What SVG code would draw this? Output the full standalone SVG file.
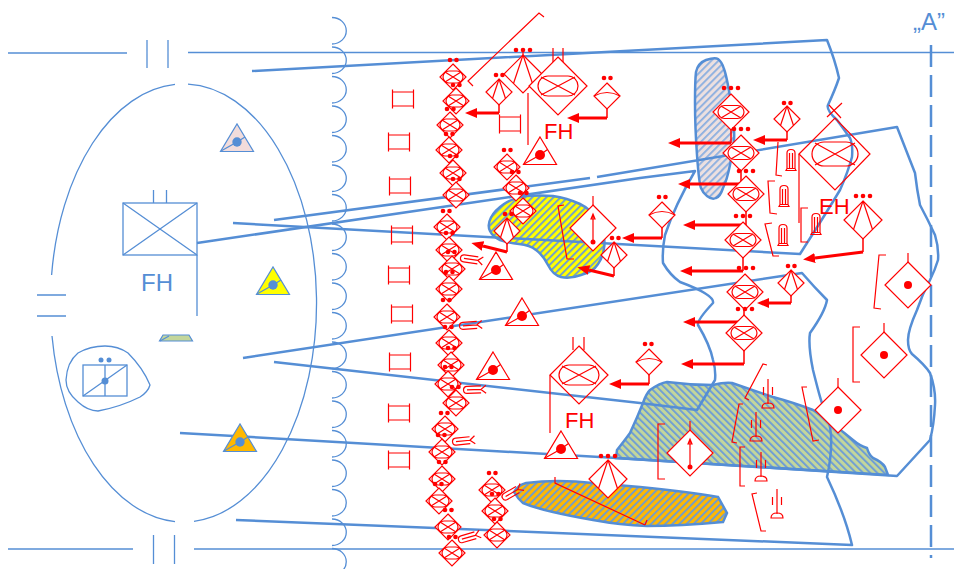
<svg xmlns="http://www.w3.org/2000/svg" width="954" height="569" viewBox="0 0 954 569">
<style>
.b1{fill:none;stroke:#558ed5;stroke-width:1.3}
.b2{fill:none;stroke:#558ed5;stroke-width:2.5;stroke-linejoin:round}
.r{fill:none;stroke:#f00;stroke-width:1.2}
.rw{fill:#fff;stroke:#f00;stroke-width:1.2}
.rf{fill:#f00}
.bf{fill:#558ed5}
.arr{fill:none;stroke:#f00;stroke-width:3;marker-end:url(#ah)}
.st{fill:none;stroke:#f00;stroke-width:1.5}
.bt{fill:#558ed5;font-family:"Liberation Sans",Arial,sans-serif}
.rt{fill:#f00;font-family:"Liberation Sans",Arial,sans-serif;font-size:22px}
</style>
<defs>
<marker id="ah" markerUnits="userSpaceOnUse" markerWidth="13" markerHeight="11" refX="0" refY="5" orient="auto"><path d="M0,0L12,5L0,10Z" fill="#f00"/></marker>
<pattern id="hy" patternUnits="userSpaceOnUse" width="5" height="5" patternTransform="rotate(45)"><rect width="5" height="5" fill="#ff0"/><rect width="1.800" height="5" fill="#6a9ad8"/></pattern>
<pattern id="ho" patternUnits="userSpaceOnUse" width="5" height="5" patternTransform="rotate(45)"><rect width="5" height="5" fill="#ffb800"/><rect width="1.800" height="5" fill="#6a9ad8"/></pattern>
<pattern id="hp" patternUnits="userSpaceOnUse" width="5" height="5" patternTransform="rotate(45)"><rect width="5" height="5" fill="#ece0e0"/><rect width="1.800" height="5" fill="#8aaee0"/></pattern>
<pattern id="hg" patternUnits="userSpaceOnUse" width="5" height="5" patternTransform="rotate(-45)"><rect width="5" height="5" fill="#c3d69b"/><rect width="1.800" height="5" fill="#6a9ad8"/></pattern>
<g id="dm"><path class="rw" d="M0,-13L13,0L0,13L-13,0Z"/><rect class="r" x="-10" y="-6" width="20" height="12" rx="6"/><path class="r" d="M-8,-5L8,5M-8,5L8,-5"/></g>
<g id="dl"><path class="rw" d="M0,-18L18,0L0,18L-18,0Z"/><rect class="r" x="-13" y="-6.5" width="26" height="13" rx="6.5"/><path class="r" d="M-10,-6L10,6M-10,6L10,-6"/></g>
<g id="fan"><path class="rw" d="M0,-13L13,0L0,13L-13,0Z"/><path class="r" d="M0,-13L-6.5,6.5M0,-13L6.5,6.5"/></g>
<g id="fanl"><path class="rw" d="M0,-19L19,0L0,19L-19,0Z"/><path class="r" d="M0,-19L-9.500,9.500M0,-19L9.500,9.500"/></g>
<g id="arc"><path class="rw" d="M0,-13L13,0L0,13L-13,0Z"/><path class="r" d="M-13,0Q0,-7 13,0"/></g>
<g id="dd"><path class="rw" d="M0,-23L23,0L0,23L-23,0Z"/><circle class="rf" r="4"/><path class="r" d="M0,-23V-32"/></g>
<g id="da"><path class="rw" d="M0,-23L23,0L0,23L-23,0Z"/><circle class="rf" cy="14" r="2.500"/><path class="r" d="M0,14V-13M-2,-9L0,-14L2,-9Z"/><path class="r" d="M0,-23V-32"/></g>
<g id="tri"><path class="rw" d="M0,0L16.500,27.500H-16.500Z"/><circle class="rf" cy="18" r="5"/><path class="r" d="M-16,27L0,18L7.500,12.500"/></g>
<g id="btri"><path d="M-16.500,27.500H16.500L0,0Z" stroke="#558ed5" stroke-width="1.200"/><circle class="bf" cy="18" r="4.700"/><path class="b1" d="M-16,27L0,18L8,13"/></g>
<path id="ii" class="r" d="M-10.500,-9.500V9.500M10.500,-9.500V9.500M-10.500,-7H10.500M-10.500,7H10.500"/>
<g id="ant"><path class="r" d="M0,-27V-2M-4.500,-19V-11M4.500,-19V-11"/><path class="r" d="M-6,2Q-6,-3 0,-3Q6,-3 6,2Z"/></g>
<g id="tow"><path class="r" d="M-4,8.500V-7Q-4,-10.500 0,-10.500Q4,-10.500 4,-7V8.500M-1.500,8.500V-7M1.500,8.500V-7M-5,10.500H5L4,8.500H-4Z"/></g>
<g id="roc"><path class="r" d="M17,-3.500H3A3.500,3.500 0 0 0 3,3.500H17M3,0H17M17,0L22,-4M17,0L22,4"/></g>
<g id="d2"><circle class="rf" r="2.300"/><circle class="rf" cx="6.500" r="2.300"/></g>
<g id="d3"><circle class="rf" r="2.300"/><circle class="rf" cx="7" r="2.300"/><circle class="rf" cx="14" r="2.300"/></g>
</defs>

<g id="terrain">
<path id="blob-lilac" fill="url(#hp)" stroke="#558ed5" stroke-width="2.500" d="M706,60Q715,57 718,59Q722,62 724,69Q727,77 731,103Q735,130 734,140Q733,150 730,165Q727,180 723,188Q720,197 716,198Q712,200 707,196Q703,193 701,188Q699,183 697,155Q695,127 695,103Q695,80 696,72Q698,63 706,60Z"/>
<path id="blob-yellow" fill="url(#hy)" stroke="#558ed5" stroke-width="2.500" d="M491,217.500Q495,210 504,204Q513,198 526,196Q540,195 553,196Q567,198 580,204Q593,210 600,225Q606,240 604,248Q603,257 598,264Q593,272 581,275Q570,279 561,277Q553,275 548,265Q543,255 536,250Q530,245 519,244Q508,243 500,240Q493,237 490,231Q487,225 491,217.500Z"/>
<path id="blob-orange" fill="url(#ho)" stroke="#558ed5" stroke-width="2.500" d="M514,492Q518,485 526,483Q557,479 593,483L640,487Q690,492 718,497L727,513L723,522Q680,526 647,526Q620,525 593,520Q570,516 553,512Q535,508 523,503Q518,499 514,492Z"/>
<path id="blob-green" fill="url(#hg)" stroke="#558ed5" stroke-width="2.500" d="M616,458L617,450Q625,440 630,433Q637,418 643,403Q646,394 650,390Q660,383 667,382Q690,385 713,385Q725,382 732,383Q752,390 773,397Q795,403 813,410Q835,425 853,440Q860,446 867,448Q869,455 873,458Q882,462 885,467L888,475L616,458Z"/>
<path id="scallops" class="b1" stroke-width="1.500" d="M332,17.500A14,13 0 0 1 332,44M332,47A14,13 0 0 1 332,73.500M332,76.500A14,13 0 0 1 332,103M332,106A14,13 0 0 1 332,132.500M332,135.500A14,13 0 0 1 332,162M332,165A14,13 0 0 1 332,191.500M332,194.500A14,13 0 0 1 332,221M332,224A14,13 0 0 1 332,250.500M332,253.500A14,13 0 0 1 332,280M332,283A14,13 0 0 1 332,309.500M332,312.500A14,13 0 0 1 332,339M332,342A14,13 0 0 1 332,368.500M332,371.500A14,13 0 0 1 332,398M332,401A14,13 0 0 1 332,427.500M332,430.500A14,13 0 0 1 332,457M332,460A14,13 0 0 1 332,486.500M332,489.500A14,13 0 0 1 332,516M332,519A14,13 0 0 1 332,545.500M332,548.500A14,13 0 0 1 332,575"/>
<path id="ellipse" class="b1" d="M51.600,275A133,219 0 0 1 175,84.450M188,84.100A133,219 0 0 1 194,521.300M175,521.550A133,219 0 0 1 52,336"/>
</g>

<g id="connectors">
<path class="b1" d="M8,53H127M188,52.500H954M147,40V68M168,40V68M8,549H133M194,549H954M153.500,535V564M174.500,535V564M37,295H66M37,316H66"/>
<path class="b2" d="M233,223L800,254L807,243Q825,215 840,190Q848,172 852,157Q853,145 850,138Q843,128 837,120Q826,110 828,105Q835,90 839,78Q835,60 827,40L252,71"/>
<path class="b2" d="M274,220L590,178M597,177L897,127Q906,150 915,173Q917,190 920,205Q928,220 935,235Q939,248 938,260Q935,270 930,280Q922,295 917,310Q908,330 908,340Q908,350 912,354Q925,365 930,373Q936,390 935,405Q934,425 930,440L897,476L617,458L180,433"/>
<path class="b2" d="M197,243L640,178L695,171Q675,205 665,235Q662,250 663,263Q670,275 680,282Q715,295 713,303Q697,320 698,325Q710,345 713,360Q716,370 715,380L697,410L640,403L274,362"/>
<path class="b2" d="M243,358L802,273Q815,288 827,300Q825,312 810,333Q808,345 813,370Q820,398 822,403Q830,420 831,435Q832,455 827,477Q845,515 852,545L236,520"/>
<path class="b2" stroke-dasharray="22 8" stroke-width="3" d="M931,45V558"/>
<path class="st" d="M499,105V113M607,109V118M507,244V252M731,125V143M741,166V184M746,207V225M743,253V271M744,305V322M744,346V364M787,132V140M791,296V303M863,239V252M662,228V238M614,268V276M649,375V384"/>
<path class="arr" d="M499,113H477"/>
<path class="arr" d="M607,118H579"/>
<path class="arr" d="M507,252L483,246"/>
<path class="arr" d="M731,143H680"/>
<path class="arr" d="M741,184H690"/>
<path class="arr" d="M746,225H695"/>
<path class="arr" d="M743,271H692"/>
<path class="arr" d="M744,322H695"/>
<path class="arr" d="M744,364H693"/>
<path class="arr" d="M787,140H765"/>
<path class="arr" d="M791,303H769"/>
<path class="arr" d="M863,252L815,258"/>
<path class="arr" d="M662,238H634"/>
<path class="arr" d="M614,276L589,270"/>
<path class="arr" d="M649,384H621"/>
</g>

<g id="blue-units">
<g id="b-tri-pink" transform="translate(237,124)"><use href="#btri" fill="#f2dcdb"/></g>
<g id="b-tri-yellow" transform="translate(273,267)"><use href="#btri" fill="#ff0"/></g>
<g id="b-tri-orange" transform="translate(240,424)"><use href="#btri" fill="#ffb800"/></g>
<g id="b-tri-green"><path d="M159.500,341H192.500L189,335H163Z" fill="#c3d69b" stroke="#558ed5" stroke-width="1.200"/><path class="b1" d="M160,341L169,336"/></g>
<g id="b-hq"><rect class="b1" x="123" y="203" width="74" height="52"/><path class="b1" d="M123,203L197,255M123,255L197,203M153.500,190V203M166.500,190V203M197,255V316"/><text class="bt" x="141" y="291" font-size="24">FH</text></g>
<g id="b-unit"><path class="b1" d="M66,380Q67,362 78,353Q90,346 105,346Q118,346 128,353Q143,368 150,385Q148,392 140,397Q120,407 98,411Q88,411 78,402Q66,392 66,380Z"/><rect class="b1" x="83" y="365" width="44" height="31"/><path class="b1" d="M105,365V396M83,396L127,365"/><circle class="bf" cx="105" cy="381" r="3.500"/><circle class="bf" cx="101" cy="360" r="2.500"/><circle class="bf" cx="109" cy="360" r="2.500"/></g>
<text id="label-a" class="bt" x="913" y="30" font-size="24">„A”</text>
</g>

<g id="column-1">
<g id="c1"><use href="#dm" x="453" y="77"/><use href="#d2" x="450" y="60"/></g>
<g id="c2"><use href="#dm" x="456" y="101"/><use href="#d2" x="453" y="85"/></g>
<g id="c3"><use href="#dm" x="450" y="125"/><use href="#d2" x="447" y="109"/></g>
<g id="c4"><use href="#dm" x="449" y="150"/><use href="#d2" x="446" y="134"/></g>
<g id="c5"><use href="#dm" x="453" y="173"/><use href="#d2" x="450" y="156"/></g>
<g id="c6"><use href="#dm" x="456" y="195"/><use href="#d2" x="453" y="179"/></g>
<g id="c7"><use href="#dm" x="447" y="227"/><use href="#d2" x="443" y="211"/></g>
<g id="c8"><use href="#dm" x="449" y="250"/><use href="#d2" x="446" y="233"/></g>
<g id="c9"><use href="#dm" x="452" y="269"/><use href="#d2" x="448" y="252"/></g>
<g id="c10"><use href="#dm" x="449" y="289"/><use href="#d2" x="446" y="272"/></g>
<g id="c11"><use href="#dm" x="447" y="317"/><use href="#d2" x="443" y="300"/></g>
<g id="c12"><use href="#dm" x="449" y="343"/><use href="#d2" x="445" y="327"/></g>
<g id="c13"><use href="#dm" x="451" y="365"/><use href="#d2" x="448" y="348"/></g>
<g id="c14"><use href="#dm" x="448" y="384"/><use href="#d2" x="445" y="367"/></g>
<g id="c15"><use href="#dm" x="456" y="403"/><use href="#d2" x="452" y="387"/></g>
<g id="c16"><use href="#dm" x="445" y="429"/><use href="#d2" x="441" y="413"/></g>
<g id="c17"><use href="#dm" x="442" y="452"/><use href="#d2" x="438" y="435"/></g>
<g id="c18"><use href="#dm" x="442" y="479"/><use href="#d2" x="439" y="462"/></g>
<g id="c19"><use href="#dm" x="439" y="501"/><use href="#d2" x="435" y="484"/></g>
<g id="c20"><use href="#dm" x="448" y="527"/><use href="#d2" x="445" y="510"/></g>
<g id="c21"><use href="#dm" x="452" y="553"/><use href="#d2" x="449" y="537"/></g>
<g id="c22"><use href="#dm" x="492" y="490"/><use href="#d2" x="489" y="473"/></g>
<g id="c23"><use href="#dm" x="495" y="511"/><use href="#d2" x="492" y="494"/></g>
<g id="c24"><use href="#dm" x="497" y="535"/><use href="#d2" x="494" y="519"/></g>
<g id="c25"><use href="#dm" x="507" y="167"/><use href="#d2" x="504" y="150"/></g>
<g id="c26"><use href="#dm" x="516" y="188"/><use href="#d2" x="512" y="172"/></g>
<g id="c27"><use href="#dm" x="523" y="211"/><use href="#d2" x="520" y="193"/></g>
</g>

<g id="rockets">
<use id="r1" href="#roc" transform="translate(461,258) rotate(8)"/>
<use id="r2" href="#roc" transform="translate(460,326) rotate(-4)"/>
<use id="r3" href="#roc" transform="translate(464,390) rotate(-2)"/>
<use id="r4" href="#roc" transform="translate(453,442) rotate(-6)"/>
<use id="r5" href="#roc" transform="translate(459,540) rotate(-16)"/>
<use id="r6" href="#roc" transform="translate(503,498) rotate(-30)"/>
</g>

<g id="bars">
<use id="i1" href="#ii" x="403" y="99"/><use id="i2" href="#ii" x="399" y="142"/><use id="i3" href="#ii" x="400" y="186"/><use id="i4" href="#ii" x="402" y="235"/><use id="i5" href="#ii" x="399" y="275"/><use id="i6" href="#ii" x="402" y="314"/><use id="i7" href="#ii" x="400" y="362"/><use id="i8" href="#ii" x="399" y="413"/><use id="i9" href="#ii" x="399" y="460"/><use id="i10" href="#ii" x="510" y="124"/>
</g>

<g id="red-hq">
<g id="hq-top"><path class="r" d="M473,86L468,81L539,13L544,17"/><g id="f1"><use href="#fanl" x="523" y="74"/><use href="#d3" x="516" y="50"/><path class="r" d="M523,50V55M528,93V145"/></g><g id="f2"><use href="#fan" x="499" y="92"/><use href="#d2" x="496" y="75"/></g><g id="f3"><path class="rw" d="M558,57L587,86L558,115L529,86Z"/><rect class="r" x="538" y="76" width="40" height="20" rx="10"/><path class="r" d="M541,77L575,95M541,95L575,77M553,48V62M563,48V62"/></g><g id="f4"><use href="#arc" x="607" y="96"/><use href="#d2" x="604" y="78"/></g><text class="rt" x="544" y="139">FH</text></g>
<g id="hq-mid"><path class="r" d="M799,154V223"/><path class="r" d="M799,154L835,118L870,154L835,190Z"/><rect class="r" x="812" y="142" width="46" height="24" rx="12"/><path class="r" d="M815,143L855,165M815,165L855,143M827,117L842,103M829,105L841,118"/><text class="rt" x="819" y="214">EH</text><g id="f5"><use href="#fanl" x="863" y="220"/><use href="#d3" x="856" y="196"/></g></g>
<g id="hq-low"><path class="r" d="M579,346L608,375L579,404L550,375Z"/><rect class="r" x="559" y="365" width="40" height="20" rx="10"/><path class="r" d="M562,366L596,384M562,384L596,366M573,337V350M584,337V350M550,375V433"/><text class="rt" x="565" y="428">FH</text><g id="f6"><use href="#arc" x="649" y="362"/><use href="#d2" x="645" y="344"/></g></g>
</g>

<g id="triangles">
<use id="t1" href="#tri" x="540" y="137"/><use id="t2" href="#tri" x="496" y="252"/><use id="t3" href="#tri" x="522" y="298"/><use id="t4" href="#tri" x="493" y="352"/><use id="t5" href="#tri" x="561" y="431"/>
</g>

<g id="center-nodes">
<g id="n1"><use href="#dl" x="731" y="112"/><use href="#d3" x="724" y="88"/></g>
<g id="n2"><use href="#dl" x="741" y="153"/><use href="#d3" x="734" y="129"/></g>
<g id="n3"><use href="#dl" x="746" y="194"/><use href="#d3" x="739" y="171"/></g>
<g id="n4"><use href="#dl" x="743" y="240"/><use href="#d3" x="736" y="216"/></g>
<g id="n5"><use href="#dl" x="745" y="292"/><use href="#d3" x="739" y="268"/></g>
<g id="n6"><use href="#dl" x="744" y="333"/><use href="#d3" x="738" y="309"/></g>
<g id="n7"><use href="#fan" x="787" y="119"/><use href="#d2" x="784" y="103"/></g>
<g id="n8"><use href="#fan" x="791" y="283"/><use href="#d2" x="788" y="266"/></g>
<g id="n9"><use href="#arc" x="662" y="215"/><use href="#d2" x="659" y="197"/></g>
<g id="n10"><path class="r" d="M564,205L558,206L567,259L574,259"/><use href="#da" x="593" y="228"/></g>
<g id="n11"><use href="#fan" x="614" y="255"/><use href="#d2" x="612" y="238"/></g>
<g id="n12"><use href="#fan" x="507" y="231"/><use href="#d2" x="505" y="214"/></g>
<g id="n13"><path class="r" d="M555,477V483L645,525M647,520L645,525"/><use href="#fanl" x="608" y="479"/><use href="#d3" x="601" y="456"/></g>
<g id="n14"><path class="r" d="M886,255L879,255L874,308L881,309"/><use href="#dd" x="908" y="285"/></g>
<g id="n15"><path class="r" d="M860,327H853V382H860"/><use href="#dd" x="884" y="355"/></g>
<g id="n16"><path class="r" d="M807,387L802,387L813,441L819,440"/><use href="#dd" x="838" y="410"/></g>
<g id="n17"><path class="r" d="M665,424H658V479H665"/><use href="#da" x="690" y="453"/></g>
</g>

<g id="towers">
<path class="r" d="M778,142L776,175L782,176M775,181H768L770,213L777,214M772,223L765,224L773,256L779,256M808,208H801V242H808"/>
<use id="w1" href="#tow" x="791" y="160"/><use id="w2" href="#tow" x="784" y="196"/><use id="w3" href="#tow" x="783" y="235"/><use id="w4" href="#tow" x="816" y="224"/>
</g>

<g id="antennas">
<path class="r" d="M767,365L763,364L745,398L749,400M743,404L739,404L732,442L737,443M745,447H740V486H745M757,493L752,494L761,531L766,531"/>
<use id="a1" href="#ant" x="768" y="406"/><use id="a2" href="#ant" x="756" y="439"/><use id="a3" href="#ant" x="761" y="479"/><use id="a4" href="#ant" x="777" y="516"/>
</g>
</svg>
